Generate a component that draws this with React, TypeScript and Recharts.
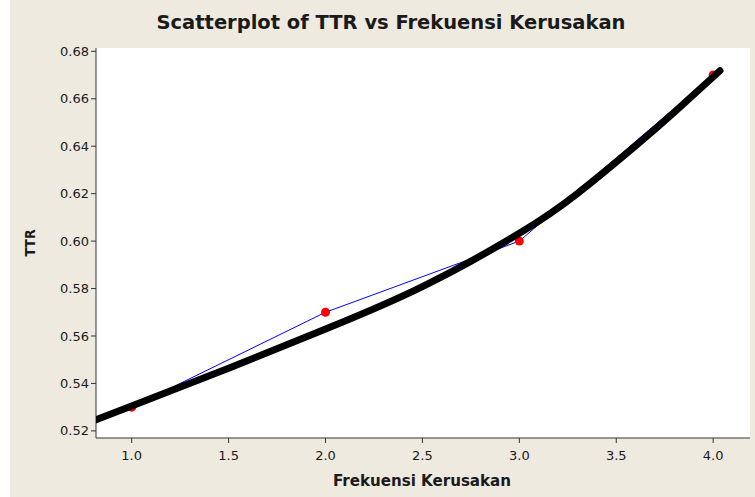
import React from 'react';
import { ComposedChart, Line, XAxis, YAxis, CartesianGrid } from 'recharts';

// Fitted curve (thick black)
const fitX = [0.816, 1.0, 1.5, 2.0, 2.5, 3.0, 3.3, 3.6, 3.8, 4.035];
const fitY = [0.5247, 0.5305, 0.5464, 0.5629, 0.5808, 0.6033, 0.6201, 0.6402, 0.6544, 0.6718];

// Observed points (red) connected by blue line
const obsX = [1, 2, 3, 4];
const obsY = [0.53, 0.57, 0.6, 0.67];

const xTicks = [1.0, 1.5, 2.0, 2.5, 3.0, 3.5, 4.0];
const yTicks = [0.52, 0.54, 0.56, 0.58, 0.6, 0.62, 0.64, 0.66, 0.68];

const xDomain = [0.816, 4.19];
const yDomain = [0.517, 0.6814];

const fitData = fitX.map((x, i) => ({ x, y: fitY[i] }));
const obsData = obsX.map((x, i) => ({ x, y: obsY[i] }));

const tickFont = { fontFamily: 'DejaVu Sans', fontSize: 13, fill: '#1a1a1a' };
const axisColor = '#333333';

export default function App() {
  return (
    <div style={{ position: 'absolute', left: 0, top: 0, width: 755, height: 497, background: '#ffffff' }}>
      <div style={{ position: 'absolute', left: 10, top: 0, width: 745, height: 497, background: '#EEEAE0' }} />
      <div style={{ position: 'absolute', left: 0, top: 0 }}>
        <ComposedChart width={755} height={497} margin={{ top: 48, right: 5, bottom: 19, left: 36 }}>
          <CartesianGrid horizontal={false} vertical={false} fill="#ffffff" />
          <XAxis
            xAxisId={0}
            type="number"
            dataKey="x"
            domain={xDomain}
            allowDataOverflow
            ticks={xTicks}
            tickFormatter={(v: number) => v.toFixed(1)}
            tick={tickFont}
            tickSize={5}
            tickMargin={8}
            height={40}
            stroke={axisColor}
            tickLine={{ stroke: axisColor }}
          />
          <XAxis
            xAxisId="top"
            orientation="top"
            type="number"
            dataKey="x"
            domain={xDomain}
            allowDataOverflow
            tick={false}
            tickLine={false}
            height={0}
            stroke={axisColor}
          />
          <YAxis
            yAxisId={0}
            type="number"
            domain={yDomain}
            allowDataOverflow
            ticks={yTicks}
            tickFormatter={(v: number) => v.toFixed(2)}
            tick={tickFont}
            tickSize={5}
            width={60}
            stroke={axisColor}
            tickLine={{ stroke: axisColor }}
          />
          <YAxis
            yAxisId="right"
            orientation="right"
            type="number"
            domain={yDomain}
            allowDataOverflow
            tick={false}
            tickLine={false}
            width={0}
            stroke={axisColor}
          />
          <Line
            data={obsData}
            dataKey="y"
            type="linear"
            stroke="#0000FF"
            strokeWidth={1}
            dot={{ r: 4.5, fill: '#FF0000', stroke: 'none', strokeWidth: 0 }}
            activeDot={false}
            isAnimationActive={false}
          />
          <Line
            data={fitData}
            dataKey="y"
            type="natural"
            stroke="#000000"
            strokeWidth={7}
            strokeLinecap="round"
            dot={false}
            activeDot={false}
            isAnimationActive={false}
            {...({ zIndex: 1500 } as any)}
          />
        </ComposedChart>
      </div>
      <svg
        width={755}
        height={497}
        style={{ position: 'absolute', left: 0, top: 0, pointerEvents: 'none' }}
      >
        <text
          x={391}
          y={29}
          textAnchor="middle"
          fontFamily="DejaVu Sans Condensed, DejaVu Sans"
          fontWeight="bold"
          fontSize={19}
          fill="#1a1a1a"
          textLength={469}
          lengthAdjust="spacingAndGlyphs"
        >
          Scatterplot of TTR vs Frekuensi Kerusakan
        </text>
        <text
          x={422}
          y={486}
          textAnchor="middle"
          fontFamily="DejaVu Sans Condensed, DejaVu Sans"
          fontWeight="bold"
          fontSize={15}
          fill="#1a1a1a"
          textLength={178}
          lengthAdjust="spacingAndGlyphs"
        >
          Frekuensi Kerusakan
        </text>
        <text
          x={0}
          y={0}
          transform="translate(35,243) rotate(-90)"
          textAnchor="middle"
          fontFamily="DejaVu Sans Condensed, DejaVu Sans"
          fontWeight="bold"
          fontSize={14}
          fill="#1a1a1a"
        >
          TTR
        </text>
      </svg>
    </div>
  );
}
